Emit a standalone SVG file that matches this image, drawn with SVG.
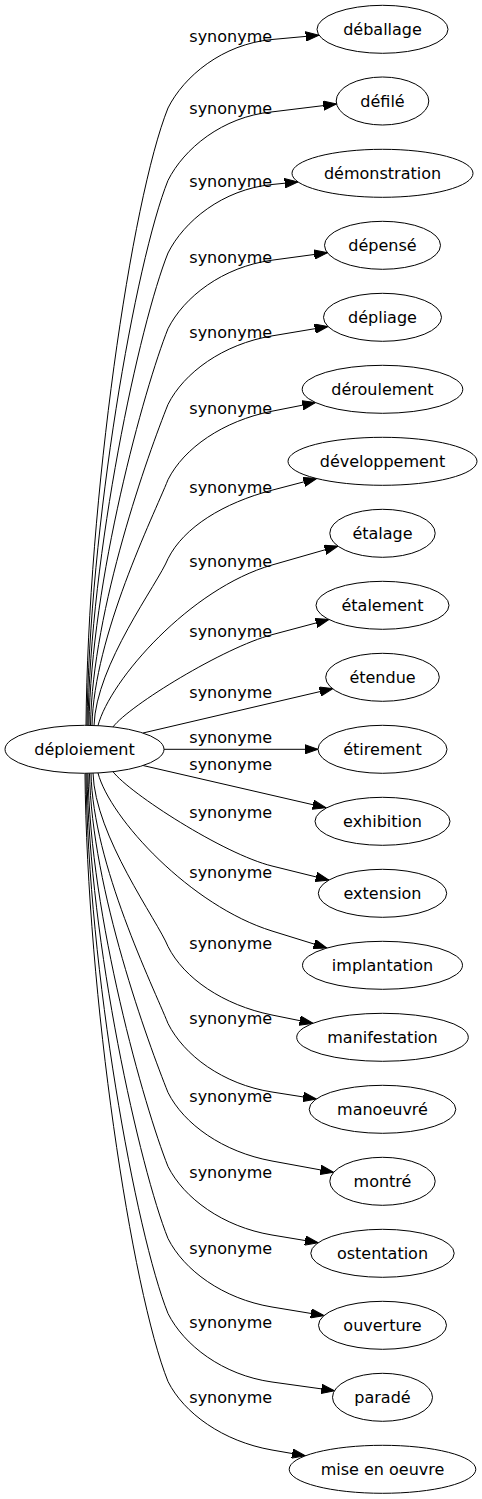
<svg xmlns="http://www.w3.org/2000/svg" width="482" height="1499" viewBox="0 0 482 1499">
<style>
.node ellipse{fill:#fff;stroke:#000;stroke-width:1}
.node text{font-family:"DejaVu Sans","Liberation Sans",sans-serif;font-size:16px;text-anchor:middle;fill:#000}
.edges path{fill:none;stroke:#000;stroke-width:1;marker-end:url(#arr)}
.lbl text{font-family:"DejaVu Sans","Liberation Sans",sans-serif;font-size:16px;text-anchor:middle;fill:#000}
</style>
<defs>
<marker id="arr" markerUnits="userSpaceOnUse" markerWidth="14" markerHeight="10" refX="13.3" refY="5" orient="auto">
<path d="M0,0.33 L13.3,5 L0,9.67 z" fill="#000" stroke="#000" stroke-width="1"/>
</marker>
</defs>
<rect width="482" height="1499" fill="#fff"/>
<g id="edges" class="edges">
<path d="M86,725.3 C88,500 131.2,200 168,108 C183.8,76.5 222.2,44.1 272,39.5 L319,35.2"/>
<path d="M87,725.3 C89,526.4 135.5,261.6 168,180.4 C183.8,148.9 222.2,116.7 272,111.9 L336.5,104"/>
<path d="M88,725.3 C90,552.9 139.8,323.4 168,253 C183.8,221.5 222.3,189.5 272,184.5 L298,181.9"/>
<path d="M89,725.3 C91,580.5 144.4,387.8 168,328.7 C183.8,297.2 222.5,266.9 272,260.2 L327.4,252.7"/>
<path d="M90.5,725.3 C92.5,608.2 148.9,452.2 168,404.4 C183.8,372.9 222.7,344.2 272,335.9 L328,326.5"/>
<path d="M92,725.4 C94,635.7 153.4,516.3 168,479.7 C183.8,448.2 223,420.9 272,411.2 L315.6,402.6"/>
<path d="M94,725.6 C96,664.5 158.1,583.5 168,558.7 C183.8,527.2 223.6,502.9 272,490.2 L316.7,478.5"/>
<path d="M98,725.6 C110,680 190.3,588.4 272,565 L337.9,546.1"/>
<path d="M113,726.9 C130,705 223.7,647.6 272,634.7 L329,619.5"/>
<path d="M143,733 L332.8,688.6"/>
<path d="M164,749.3 L318,749.3"/>
<path d="M143,765.5 L325.9,807.7"/>
<path d="M113,771.7 C130,793.6 223.5,854 272,866 L328.9,880.1"/>
<path d="M98,773 C110,818.6 190.8,905.8 272,931 L326.9,948"/>
<path d="M93,773 C95,836.3 157.6,920.6 168,946.5 C183.8,978 223,1005.1 272,1015 L312.9,1023.3"/>
<path d="M91,773.2 C93,864.4 153.1,986.2 168,1023.5 C183.8,1055 222.6,1084.3 272,1092 L316.4,1099"/>
<path d="M89.5,773.3 C91.5,889.6 149,1044.9 168,1092.5 C183.8,1124 222.8,1152 272,1161 L333.6,1172.3"/>
<path d="M88,773.3 C90,916.6 144.6,1107.9 168,1166.5 C183.8,1198 222.7,1226.8 272,1235 L318.2,1242.7"/>
<path d="M87,773.3 C89,942.9 140.2,1169.1 168,1238.5 C183.8,1270 222.7,1298.8 272,1307 L324,1315.6"/>
<path d="M86,773.3 C88,970.3 135.8,1233 168,1313.5 C183.8,1345 222.5,1375.1 272,1382 L334.5,1390.7"/>
<path d="M85,773.3 C87,995.1 131.7,1290.8 168,1381.5 C183.8,1413 222.7,1441.4 272,1450 L305.3,1455.8"/>
</g>
<g id="edge-labels" class="lbl">
<text x="230.7" y="42">synonyme</text>
<text x="230.7" y="114.4">synonyme</text>
<text x="230.7" y="187">synonyme</text>
<text x="230.7" y="262.7">synonyme</text>
<text x="230.7" y="338.4">synonyme</text>
<text x="230.7" y="413.7">synonyme</text>
<text x="230.7" y="492.7">synonyme</text>
<text x="230.7" y="567">synonyme</text>
<text x="230.7" y="636.7">synonyme</text>
<text x="230.7" y="697.7">synonyme</text>
<text x="230.7" y="742.7">synonyme</text>
<text x="230.7" y="770.4">synonyme</text>
<text x="230.7" y="817.7">synonyme</text>
<text x="230.7" y="877.7">synonyme</text>
<text x="230.7" y="949.4">synonyme</text>
<text x="230.7" y="1024">synonyme</text>
<text x="230.7" y="1101.7">synonyme</text>
<text x="230.7" y="1177.7">synonyme</text>
<text x="230.7" y="1253.7">synonyme</text>
<text x="230.7" y="1328.4">synonyme</text>
<text x="230.7" y="1402.7">synonyme</text>
</g>
<g id="n-deploiement" class="node"><ellipse cx="84.5" cy="749.3" rx="79.5" ry="24"/><text x="84.5" y="755.1">déploiement</text></g>
<g id="n-deballage" class="node"><ellipse cx="382.5" cy="29.3" rx="65.5" ry="24"/><text x="382.5" y="35.1">déballage</text></g>
<g id="n-defile" class="node"><ellipse cx="382.5" cy="101" rx="46.3" ry="24"/><text x="382.5" y="106.8">défilé</text></g>
<g id="n-demonstration" class="node"><ellipse cx="382.5" cy="173.3" rx="90.5" ry="24"/><text x="382.5" y="179.1">démonstration</text></g>
<g id="n-depense" class="node"><ellipse cx="382.5" cy="245.3" rx="58" ry="24"/><text x="382.5" y="251.1">dépensé</text></g>
<g id="n-depliage" class="node"><ellipse cx="382.5" cy="317.3" rx="59" ry="24"/><text x="382.5" y="323.1">dépliage</text></g>
<g id="n-deroulement" class="node"><ellipse cx="382.5" cy="389.3" rx="80.3" ry="24"/><text x="382.5" y="395.1">déroulement</text></g>
<g id="n-developpement" class="node"><ellipse cx="382.5" cy="461.3" rx="94.5" ry="24"/><text x="382.5" y="467.1">développement</text></g>
<g id="n-etalage" class="node"><ellipse cx="382.5" cy="533.3" rx="52.7" ry="24"/><text x="382.5" y="539.1">étalage</text></g>
<g id="n-etalement" class="node"><ellipse cx="382.5" cy="605.3" rx="66.5" ry="24"/><text x="382.5" y="611.1">étalement</text></g>
<g id="n-etendue" class="node"><ellipse cx="382.5" cy="677.3" rx="56.8" ry="24"/><text x="382.5" y="683.1">étendue</text></g>
<g id="n-etirement" class="node"><ellipse cx="382.5" cy="749.3" rx="64.5" ry="24"/><text x="382.5" y="755.1">étirement</text></g>
<g id="n-exhibition" class="node"><ellipse cx="382.5" cy="821.3" rx="67.5" ry="24"/><text x="382.5" y="827.1">exhibition</text></g>
<g id="n-extension" class="node"><ellipse cx="382.5" cy="893.3" rx="64.2" ry="24"/><text x="382.5" y="899.1">extension</text></g>
<g id="n-implantation" class="node"><ellipse cx="382.5" cy="965.3" rx="80" ry="24"/><text x="382.5" y="971.1">implantation</text></g>
<g id="n-manifestation" class="node"><ellipse cx="382.5" cy="1037.3" rx="85.8" ry="24"/><text x="382.5" y="1043.1">manifestation</text></g>
<g id="n-manoeuvre" class="node"><ellipse cx="382.5" cy="1109.3" rx="73.3" ry="24"/><text x="382.5" y="1115.1">manoeuvré</text></g>
<g id="n-montre" class="node"><ellipse cx="382.5" cy="1181.3" rx="52.7" ry="24"/><text x="382.5" y="1187.1">montré</text></g>
<g id="n-ostentation" class="node"><ellipse cx="382.5" cy="1253.3" rx="71.7" ry="24"/><text x="382.5" y="1259.1">ostentation</text></g>
<g id="n-ouverture" class="node"><ellipse cx="382.5" cy="1325.3" rx="64" ry="24"/><text x="382.5" y="1331.1">ouverture</text></g>
<g id="n-parade" class="node"><ellipse cx="382.5" cy="1397.3" rx="50" ry="24"/><text x="382.5" y="1403.1">paradé</text></g>
<g id="n-mise-en-oeuvre" class="node"><ellipse cx="382.5" cy="1469.3" rx="93.3" ry="24"/><text x="382.5" y="1475.1">mise en oeuvre</text></g>
</svg>
